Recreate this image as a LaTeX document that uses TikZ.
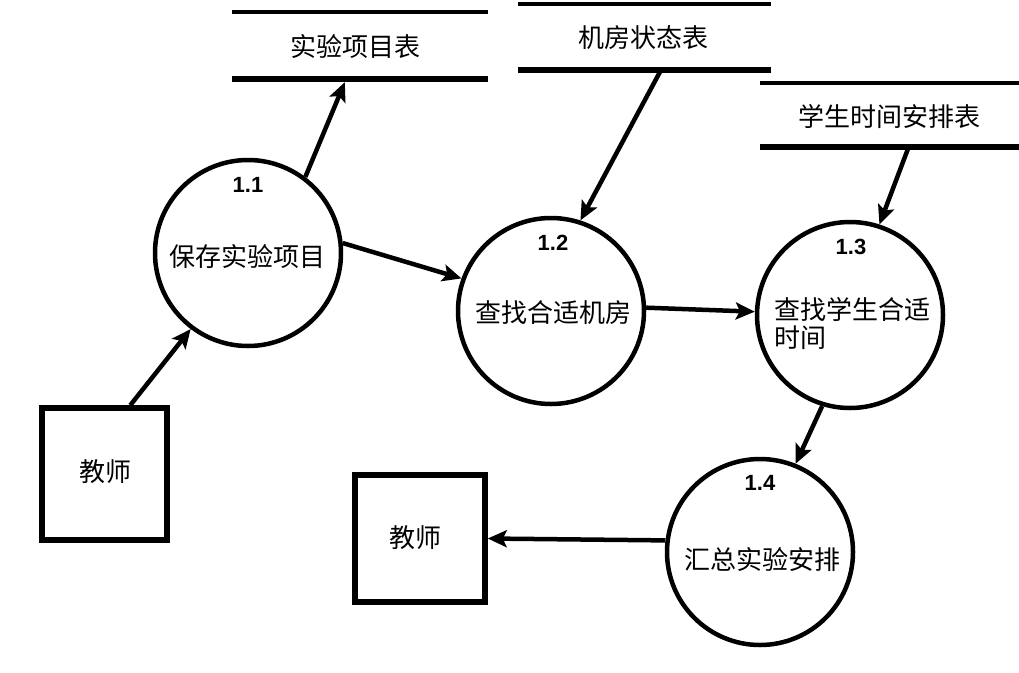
\documentclass[tikz,border=0pt]{standalone}
\usepackage{fontspec}
\setmainfont{Liberation Sans}
\newfontfamily\cjk{Noto Sans CJK SC}
\usetikzlibrary{arrows.meta,calc}
\begin{document}
\begin{tikzpicture}[x=1pt,y=-1pt,
  proc/.style={circle,draw,line width=4.5pt,minimum size=186pt,inner sep=0pt},
  ent/.style={rectangle,draw,line width=5.5pt,inner sep=0pt},
  store/.style={inner sep=0pt},
  txt/.style={font=\cjk\fontsize{26}{28}\selectfont,inner sep=0pt},
  num/.style={font=\bfseries\fontsize{22}{24}\selectfont,inner sep=0pt},
  arr/.style={line width=4.5pt,-{Stealth[length=19pt,width=17pt,inset=4pt]}},
  topline/.style={line width=3.5pt},
  botline/.style={line width=5.5pt}
]
\useasboundingbox (0,0) rectangle (1019,672);

% data stores
\node[store,minimum width=256pt,minimum height=67pt] (s1) at (360,45.5) {};
\node[txt] (s1t) at (355,47) {实验项目表};
\draw[topline] (s1.north west) -- (s1.north east);
\draw[botline] (s1.south west) -- (s1.south east);

\node[store,minimum width=253pt,minimum height=66pt] (s2) at (644.5,37) {};
\node[txt] (s2t) at (643,38) {机房状态表};
\draw[topline] (s2.north west) -- (s2.north east);
\draw[botline] (s2.south west) -- (s2.south east);

\node[store,minimum width=259pt,minimum height=64pt] (s3) at (889.5,115) {};
\node[txt] (s3t) at (889,117) {学生时间安排表};
\draw[topline] (s3.north west) -- (s3.north east);
\draw[botline] (s3.south west) -- (s3.south east);

% processes
\node[proc] (c11) at (248,253) {};
\node[num] (n11) at (248,185) {1.1};
\node[txt] (t11) at (247,257) {保存实验项目};

\node[proc] (c12) at (551,311) {};
\node[num] (n12) at (553,243) {1.2};
\node[txt] (t12) at (553,313) {查找合适机房};

\node[proc] (c13) at (850,315) {};
\node[num] (n13) at (851,247) {1.3};
\node[txt,align=left] (t13) at (852,323) {查找学生合适\\时间};

\node[proc] (c14) at (760,552) {};
\node[num] (n14) at (760,483) {1.4};
\node[txt] (t14) at (762,560) {汇总实验安排};

% external entities
\node[ent,minimum width=125pt,minimum height=132pt] (b1) at (104.5,474) {};
\node[txt] (b1t) at (105,472) {教师};
\node[ent,minimum width=130pt,minimum height=127pt] (b2) at (420,538.5) {};
\node[txt] (b2t) at (415,538) {教师};

% anchor points on stores
\coordinate (a1) at ($(s1.south west)+(113,3)$);
\coordinate (a2) at ($(s2.south west)+(142,2)$);
\coordinate (a3) at ($(s3.south west)+(148,2)$);
\coordinate (e1) at ($(b1.north west)+(91,0)$);

% flows
\draw[arr] (e1) -- (c11.233);
\draw[arr] (c11.53) -- (a1);
\draw[arr] (c11.6) -- (c12.160);
\draw[arr] (a2) -- (c12.72);
\draw[arr] (c12.2) -- (c13.178);
\draw[arr] (a3) -- (c13.72);
\draw[arr] (c13.253) -- (c14.68);
\draw[arr] (c14.173) -- (b2.east);
\end{tikzpicture}
\end{document}
